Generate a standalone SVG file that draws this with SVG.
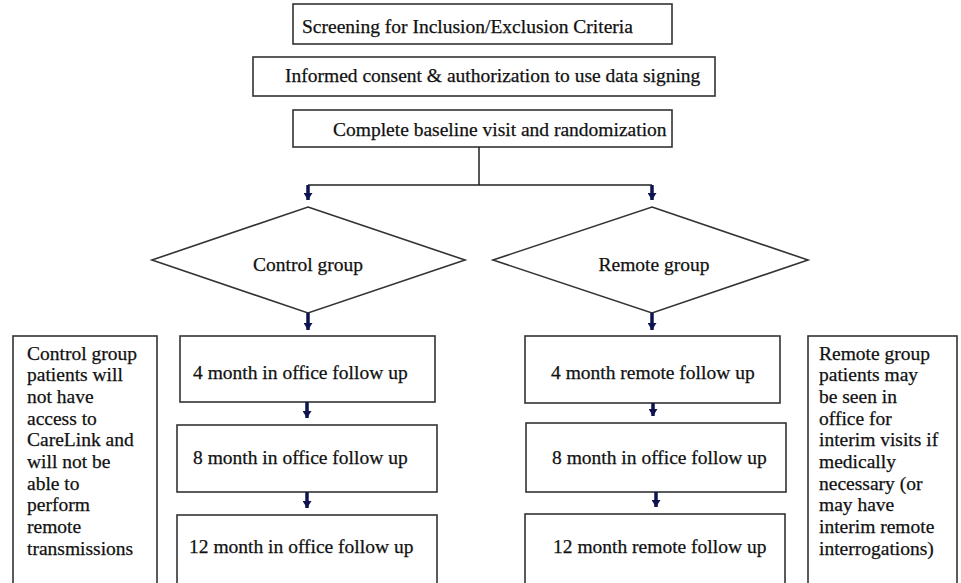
<svg xmlns="http://www.w3.org/2000/svg" width="961" height="583" viewBox="0 0 961 583">
<style>
.box{fill:#fff;stroke:#333;stroke-width:1.6}
.t{font-family:"Liberation Serif","Times New Roman",serif;font-size:19.5px;fill:#111;stroke:#111;stroke-width:0.25}
.ln{fill:none;stroke:#222;stroke-width:1.5}
.ar{fill:none;stroke:#0d1450;stroke-width:3.5}
</style>
<defs>
<marker id="ah" markerUnits="userSpaceOnUse" markerWidth="9" markerHeight="9" refX="7" refY="4.5" orient="auto">
<path d="M0,0 L7,4.5 L0,9 z" fill="#0d1450"/>
</marker>
</defs>
<rect width="961" height="583" fill="#fff"/>

<g id="screening">
<rect class="box" x="293" y="4" width="379" height="40"/>
<text class="t" x="302" y="33">Screening for Inclusion/Exclusion  Criteria</text>
</g>
<g id="consent">
<rect class="box" x="253" y="57" width="462" height="39"/>
<text class="t" x="285" y="82">Informed consent &amp; authorization  to use data signing</text>
</g>
<g id="baseline">
<rect class="box" x="293" y="110" width="379" height="37"/>
<text class="t" x="333" y="136">Complete baseline visit and randomization</text>
</g>

<g id="control">
<polygon class="box" points="308,207 465,260 308,313 152,260"/>
<text class="t" x="308" y="271" text-anchor="middle">Control group</text>
</g>
<g id="remote">
<polygon class="box" points="652,207 808,260 652,313 493,260"/>
<text class="t" x="654" y="271" text-anchor="middle">Remote group</text>
</g>

<g id="c4">
<rect class="box" x="180" y="336" width="255" height="66"/>
<text class="t" x="193" y="379">4 month in office follow up</text>
</g>
<g id="c8">
<rect class="box" x="177" y="425" width="260" height="67"/>
<text class="t" x="193" y="464">8 month in office follow up</text>
</g>
<g id="c12">
<rect class="box" x="177" y="515" width="260" height="80"/>
<text class="t" x="189" y="553">12 month in office follow up</text>
</g>

<g id="r4">
<rect class="box" x="525" y="336" width="255" height="67"/>
<text class="t" x="551" y="379">4 month remote follow  up</text>
</g>
<g id="r8">
<rect class="box" x="526" y="423" width="260" height="69"/>
<text class="t" x="552" y="464">8 month in office follow up</text>
</g>
<g id="r12">
<rect class="box" x="525" y="514" width="260" height="80"/>
<text class="t" x="553" y="553">12 month remote follow  up</text>
</g>

<g id="controlnote">
<rect class="box" x="13" y="336" width="144" height="260"/>
<text class="t">
<tspan x="27" y="360">Control group</tspan>
<tspan x="27" y="381">patients will</tspan>
<tspan x="27" y="403">not have</tspan>
<tspan x="27" y="425">access to</tspan>
<tspan x="27" y="446">CareLink and</tspan>
<tspan x="27" y="468">will not be</tspan>
<tspan x="27" y="490">able to</tspan>
<tspan x="27" y="511">perform</tspan>
<tspan x="27" y="533">remote</tspan>
<tspan x="27" y="555">transmissions</tspan>
</text>
</g>
<g id="remotenote">
<rect class="box" x="808" y="336" width="149" height="260"/>
<text class="t">
<tspan x="819" y="360">Remote group</tspan>
<tspan x="819" y="381">patients may</tspan>
<tspan x="819" y="403">be seen in</tspan>
<tspan x="819" y="425">office for</tspan>
<tspan x="819" y="446">interim  visits if</tspan>
<tspan x="819" y="468">medically</tspan>
<tspan x="819" y="490">necessary (or</tspan>
<tspan x="819" y="511">may have</tspan>
<tspan x="819" y="533">interim  remote</tspan>
<tspan x="819" y="555">interrogations)</tspan>
</text>
</g>

<g id="connectors">
<path class="ln" d="M479,147 V185 M308,185 H652"/>
<path class="ar" d="M308,185 V200" marker-end="url(#ah)"/>
<path class="ar" d="M652,185 V200" marker-end="url(#ah)"/>
<path class="ar" d="M308,313 V330" marker-end="url(#ah)"/>
<path class="ar" d="M652,313 V330" marker-end="url(#ah)"/>
<path class="ar" d="M307,402 V418" marker-end="url(#ah)"/>
<path class="ar" d="M307,492 V508" marker-end="url(#ah)"/>
<path class="ar" d="M653,403 V416" marker-end="url(#ah)"/>
<path class="ar" d="M656,492 V507" marker-end="url(#ah)"/>
</g>
</svg>
